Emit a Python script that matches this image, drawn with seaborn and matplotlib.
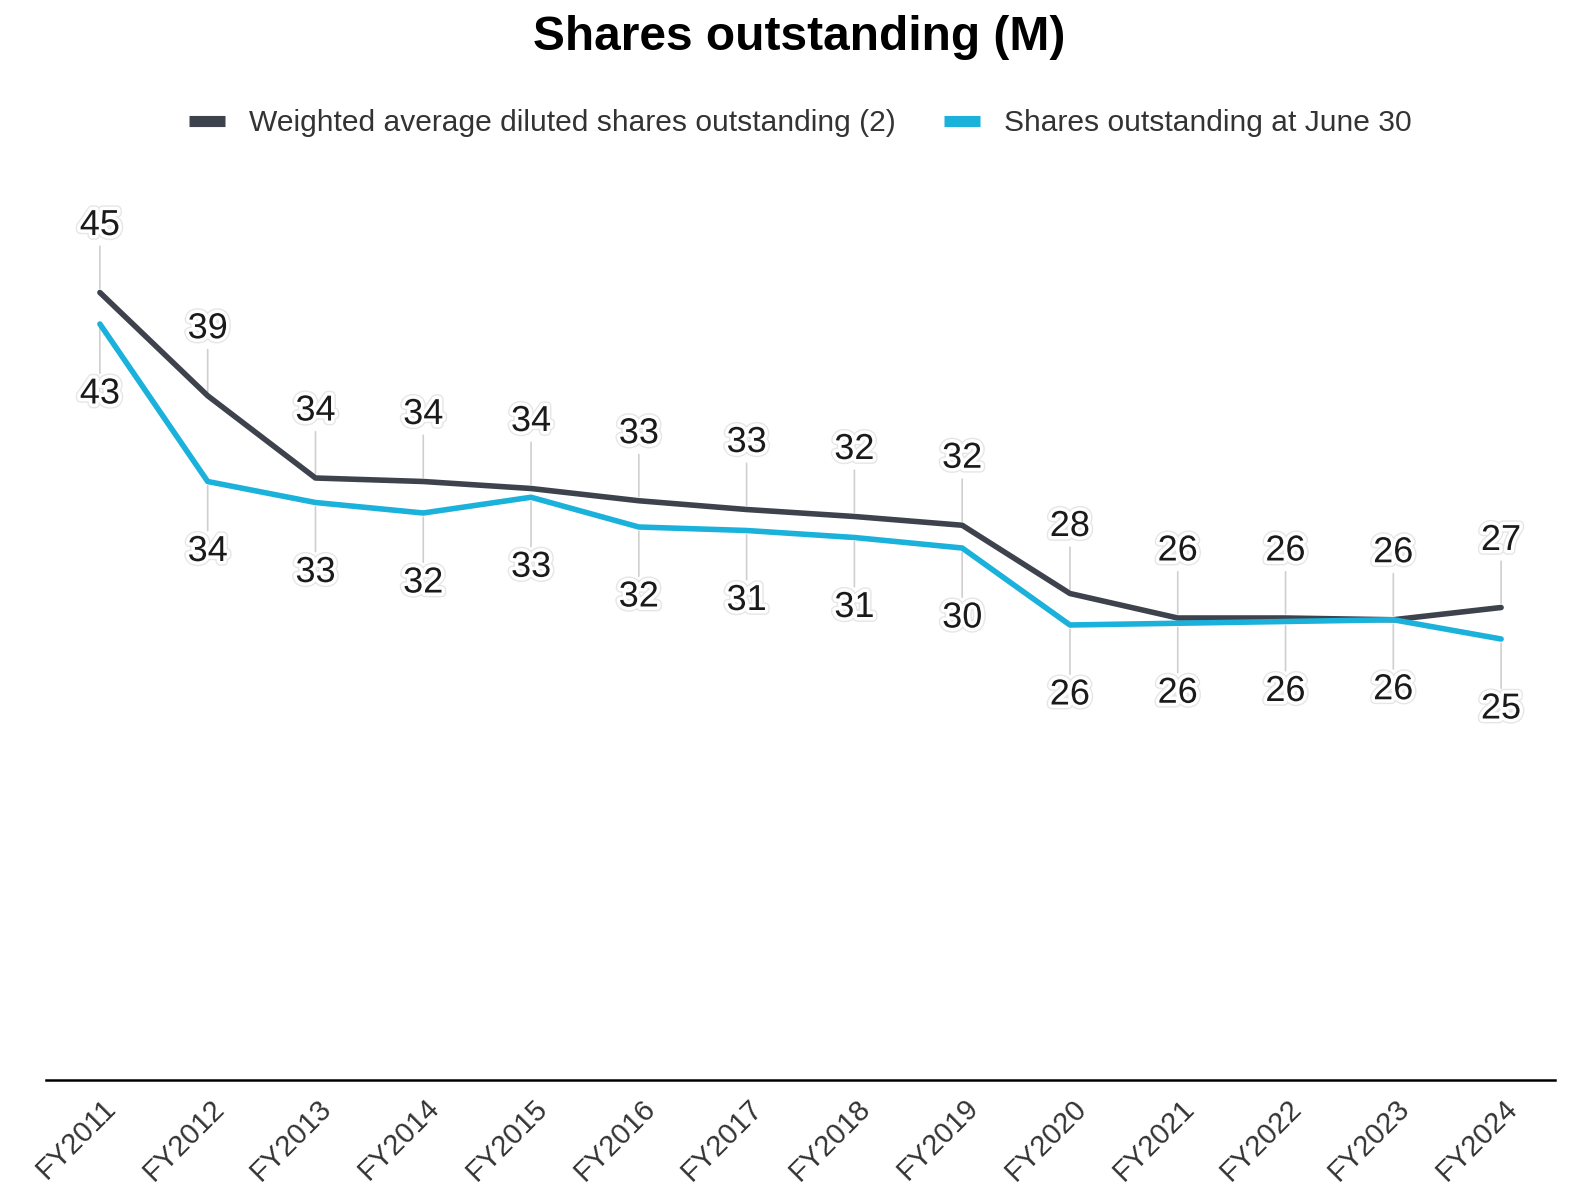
import matplotlib
matplotlib.use("Agg")
import matplotlib.pyplot as plt
import matplotlib.patheffects as pe
import matplotlib.transforms as mtransforms
from matplotlib.lines import Line2D
import seaborn as sns
import pandas as pd

# Fiscal years and share counts (millions)
years = ["FY2011", "FY2012", "FY2013", "FY2014", "FY2015", "FY2016", "FY2017",
         "FY2018", "FY2019", "FY2020", "FY2021", "FY2022", "FY2023", "FY2024"]
diluted = [45.0, 39.1, 34.4, 34.2, 33.8, 33.1, 32.6, 32.2, 31.7, 27.8, 26.4, 26.4, 26.3, 27.0]
june30 = [43.2, 34.2, 33.0, 32.4, 33.3, 31.6, 31.4, 31.0, 30.4, 26.0, 26.1, 26.2, 26.3, 25.2]

series_names = ["Weighted average diluted shares outstanding (2)",
                "Shares outstanding at June 30"]
series_colors = ["#3d424d", "#1ab1da"]

sns.set_theme(style="white")
plt.rcParams["font.family"] = ["Liberation Sans", "DejaVu Sans"]

df = pd.DataFrame({
    "year": years * 2,
    "value": diluted + june30,
    "series": [series_names[0]] * len(years) + [series_names[1]] * len(years),
})
palette = dict(zip(series_names, series_colors))

W, H = 1569, 1189
fig = plt.figure(figsize=(W / 100, H / 100), dpi=100)
fig.patch.set_facecolor("white")
ax = fig.add_axes([46 / W, 1 - 1080 / H, (1555 - 46) / W, (1080 - 205) / H])

sns.lineplot(data=df, x="year", y="value", hue="series", palette=palette,
             linewidth=4.0, legend=False, sort=False, ax=ax)
for ln in ax.get_lines():
    ln.set_solid_joinstyle("round")
    ln.set_zorder(3)

ax.set_xlim(-0.5, len(years) - 0.5)
ax.set_ylim(0, 50)
ax.set_xlabel("")
ax.set_ylabel("")
ax.set_yticks([])
ax.grid(False)
for side in ["top", "right", "left"]:
    ax.spines[side].set_visible(False)
ax.spines["bottom"].set_color("black")
ax.spines["bottom"].set_linewidth(1.8)
ax.tick_params(axis="x", length=0, pad=10)
shift = mtransforms.ScaledTranslation(1.5 / 72, 0, fig.dpi_scale_trans)
for lbl in ax.get_xticklabels():
    lbl.set_rotation(45)
    lbl.set_ha("right")
    lbl.set_va("top")
    lbl.set_rotation_mode("anchor")
    lbl.set_fontsize(21)
    lbl.set_color("#333333")
    lbl.set_transform(lbl.get_transform() + shift)

halo = [pe.Stroke(linewidth=7, foreground="#e6e6e6"),
        pe.Stroke(linewidth=5, foreground="white"),
        pe.Normal()]

def label_points(values, offset):
    for i, v in enumerate(values):
        ax.annotate(f"{v:.0f}", xy=(i, v), xytext=(0, offset),
                    textcoords="offset pixels", ha="center", va="center",
                    fontsize=26, color="#1a1a1a", zorder=2,
                    path_effects=halo,
                    arrowprops=dict(arrowstyle="-", color="#cfcfcf", lw=1.2,
                                    shrinkA=0, shrinkB=3))

label_points(diluted, 67)
label_points(june30, -70)

fig.text(799 / W, 1 - 38 / H, "Shares outstanding (M)", ha="center", va="center",
         fontsize=34.5, fontweight="bold", color="black")

handles = [Line2D([0], [0], color=c, lw=8, solid_capstyle="butt") for c in series_colors]
fig.legend(handles, series_names, loc="center", bbox_to_anchor=(800 / W, 1 - 123 / H),
           ncol=2, frameon=False, fontsize=21.6, handlelength=1.2, handletextpad=0.8,
           columnspacing=1.6, labelcolor="#333333")

fig.savefig("out.png", dpi=100, facecolor="white")
